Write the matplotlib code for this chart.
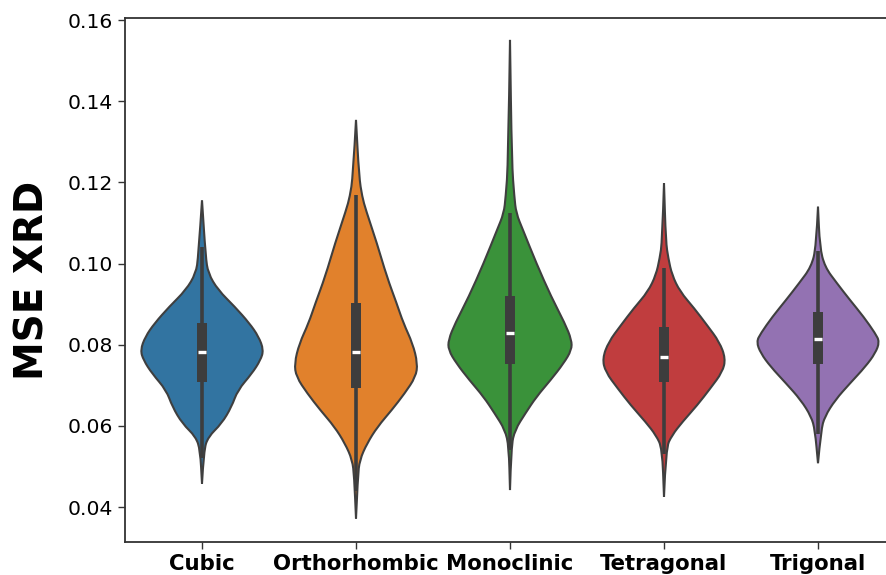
import numpy as np
import matplotlib
matplotlib.use("Agg")
import matplotlib.pyplot as plt
from matplotlib.path import Path
from matplotlib.patches import PathPatch

# crystal systems on the x axis
categories = ["Cubic", "Orthorhombic", "Monoclinic", "Tetragonal", "Trigonal"]
colors = ["#3274a1", "#e1812c", "#3a923a", "#c03d3e", "#9372b2"]

# violin outlines: MSE value and relative half-width
cubic_y = [0.1156, 0.1017, 0.0976, 0.0935, 0.0894, 0.0853, 0.0820, 0.0787, 0.0762, 0.0729, 0.0688, 0.0647, 0.0606, 0.0573, 0.0540, 0.0458]
cubic_w = [0.0, 0.06, 0.10, 0.26, 0.53, 0.77, 0.92, 1.0, 0.95, 0.81, 0.58, 0.48, 0.32, 0.10, 0.03, 0.0]

ortho_y = [0.1354, 0.1214, 0.1165, 0.1132, 0.1050, 0.0968, 0.0902, 0.0853, 0.0803, 0.0754, 0.0721, 0.0680, 0.0639, 0.0598, 0.0557, 0.0516, 0.0475, 0.0372]
ortho_w = [0.0, 0.05, 0.10, 0.16, 0.34, 0.50, 0.66, 0.77, 0.92, 1.0, 0.97, 0.79, 0.58, 0.35, 0.18, 0.06, 0.03, 0.0]

mono_y = [0.1551, 0.1247, 0.1165, 0.1124, 0.1083, 0.1000, 0.0918, 0.0853, 0.0812, 0.0787, 0.0754, 0.0713, 0.0672, 0.0631, 0.0590, 0.0549, 0.0442]
mono_w = [0.0, 0.03, 0.07, 0.10, 0.21, 0.43, 0.67, 0.89, 1.0, 1.0, 0.87, 0.66, 0.43, 0.25, 0.08, 0.02, 0.0]

tetra_y = [0.1198, 0.1054, 0.1013, 0.0972, 0.0931, 0.0890, 0.0848, 0.0807, 0.0766, 0.0733, 0.0692, 0.0651, 0.0610, 0.0577, 0.0545, 0.0425]
tetra_w = [0.0, 0.03, 0.07, 0.13, 0.26, 0.49, 0.70, 0.90, 1.0, 0.95, 0.75, 0.54, 0.30, 0.13, 0.03, 0.0]

trig_y = [0.1140, 0.1041, 0.0992, 0.0951, 0.0910, 0.0869, 0.0828, 0.0807, 0.0779, 0.0746, 0.0705, 0.0664, 0.0623, 0.0590, 0.0508]
trig_w = [0.0, 0.03, 0.11, 0.31, 0.52, 0.74, 0.93, 1.0, 0.93, 0.77, 0.52, 0.28, 0.11, 0.05, 0.0]

# box stats: quartiles, median, whisker ends
q1 = [0.0707, 0.0693, 0.0752, 0.0709, 0.0752]
q3 = [0.0854, 0.0902, 0.0921, 0.0844, 0.0880]
medians = [0.0781, 0.0781, 0.0830, 0.0770, 0.0814]
whisker_lo = [0.052, 0.044, 0.054, 0.053, 0.058]
whisker_hi = [0.104, 0.117, 0.1125, 0.0988, 0.103]

profiles = [(cubic_y, cubic_w), (ortho_y, ortho_w), (mono_y, mono_w),
            (tetra_y, tetra_w), (trig_y, trig_w)]


def smooth_side(pts):
    # quadratic bezier through midpoints, ends kept exact
    verts = [pts[0], (pts[0] + pts[1]) / 2]
    codes = [Path.MOVETO, Path.LINETO]
    for i in range(1, len(pts) - 2):
        verts += [pts[i], (pts[i] + pts[i + 1]) / 2]
        codes += [Path.CURVE3, Path.CURVE3]
    verts += [pts[-2], pts[-1]]
    codes += [Path.CURVE3, Path.CURVE3]
    return verts, codes


def violin_path(x0, yy, ww, half=0.4):
    yy = np.array(yy)
    ww = np.array(ww) / max(ww) * half
    right = np.column_stack([x0 + ww, yy])
    left = np.column_stack([x0 - ww, yy])[::-1]
    v1, c1 = smooth_side(right)
    v2, c2 = smooth_side(left)
    c2[0] = Path.LINETO
    verts = v1 + v2 + [v1[0]]
    codes = c1 + c2 + [Path.CLOSEPOLY]
    return Path(verts, codes)


fig = plt.figure(figsize=(8.87, 5.75), dpi=100)
ax = fig.add_axes([125 / 887, 33 / 575, 770 / 887, 524 / 575])

pos = np.arange(len(categories))
for i, (yy, ww) in enumerate(profiles):
    patch = PathPatch(violin_path(pos[i], yy, ww), facecolor=colors[i],
                      edgecolor="#3f3f3f", lw=1.5, zorder=2)
    ax.add_patch(patch)

dark = "#3d3d3d"
ax.vlines(pos, whisker_lo, whisker_hi, color=dark, lw=2.6, zorder=3)
ax.bar(pos, np.array(q3) - np.array(q1), bottom=q1, width=0.07, color=dark, zorder=4)
ax.hlines(medians, pos - 0.024, pos + 0.024, color="white", lw=2.4, zorder=5)

ax.set_xlim(-0.5, 4.5)
ax.set_ylim(0.0314, 0.1605)
ax.set_yticks([0.04, 0.06, 0.08, 0.10, 0.12, 0.14, 0.16])
ax.set_yticklabels(["0.04", "0.06", "0.08", "0.10", "0.12", "0.14", "0.16"], fontsize=14.7)
ax.set_xticks(pos)
ax.set_xticklabels(categories, fontsize=15.3, fontweight="bold")
ax.tick_params(axis="both", length=5, width=1, color="#333333")
ax.set_ylabel("MSE XRD", fontsize=28, fontweight="bold", labelpad=12)
for s in ax.spines.values():
    s.set_linewidth(1.3)
    s.set_color("#333333")
ax.spines["right"].set_visible(False)

fig.savefig("out.png", dpi=100)
